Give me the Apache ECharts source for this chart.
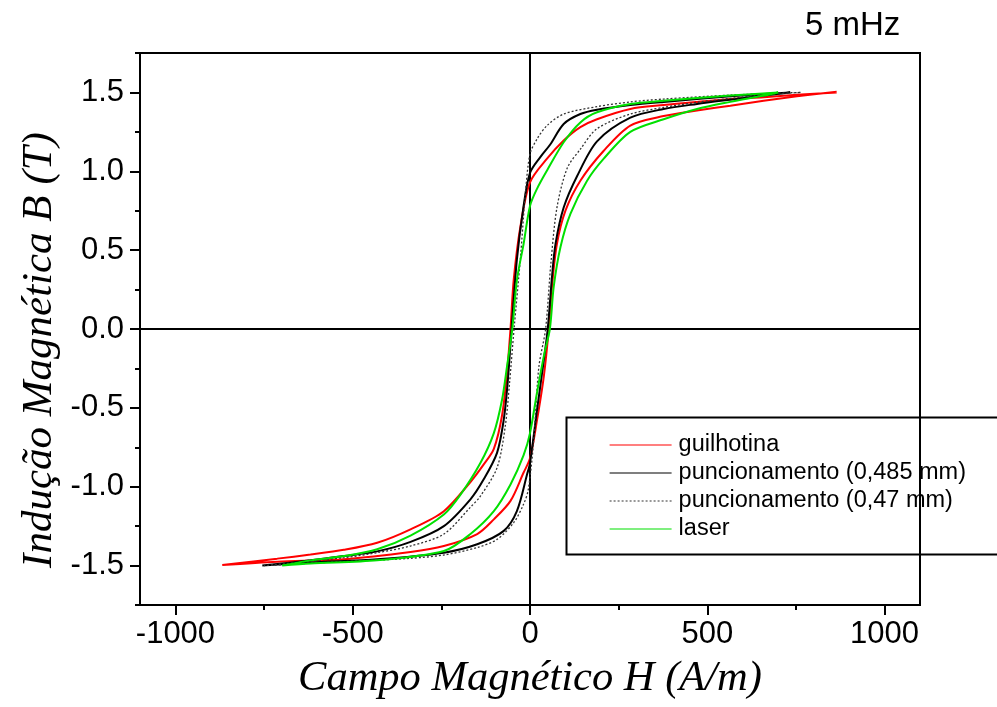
<!DOCTYPE html>
<html>
<head>
<meta charset="utf-8">
<script src="https://cdn.jsdelivr.net/npm/echarts@6/dist/echarts.min.js"></script>
<style>
html,body{margin:0;padding:0;background:#fff;}
#chart{width:997px;height:707px;}
</style>
</head>
<body>
<div id="chart"></div>
<script>
// ---- Data (H in A/m, B in T) ----
const seriesNames = ['guilhotina', 'puncionamento (0,485 mm)', 'puncionamento (0,47 mm)', 'laser'];

// guilhotina (red)
const gDownH = [865, 753, 659, 565, 471, 377, 283, 189, 142, 95, 48, 0, -27, -46, -55, -65, -79, -102, -131, -168, -243, -337, -431, -525, -619, -713, -868];
const gDownB = [1.50, 1.485, 1.47, 1.458, 1.44, 1.42, 1.395, 1.33, 1.28, 1.195, 1.08, 0.93, 0.65, 0.31, 0.0, -0.28, -0.55, -0.76, -0.86, -0.97, -1.155, -1.27, -1.355, -1.40, -1.43, -1.456, -1.496];
const gUpH = [-868, -713, -525, -337, -243, -149, -102, -55, -18, 0, 20, 39, 53, 62, 76, 100, 142, 208, 283, 377, 471, 565, 659, 753, 865];
const gUpB = [-1.496, -1.475, -1.46, -1.414, -1.376, -1.30, -1.207, -1.09, -0.91, -0.82, -0.575, -0.30, 0.0, 0.27, 0.54, 0.75, 0.94, 1.13, 1.29, 1.35, 1.385, 1.416, 1.447, 1.475, 1.504];

// puncionamento (0,485 mm) (black solid)
const p1DownH = [734, 565, 377, 283, 189, 142, 95, 57, 29, 0, -18, -37, -52, -63, -74, -93, -131, -168, -243, -337, -431, -525, -619, -755];
const p1DownB = [1.50, 1.475, 1.44, 1.42, 1.39, 1.363, 1.30, 1.17, 1.09, 0.99, 0.78, 0.44, 0.0, -0.34, -0.575, -0.785, -0.955, -1.08, -1.25, -1.35, -1.41, -1.44, -1.467, -1.50];
const p1UpH = [-755, -619, -431, -243, -149, -74, -37, -8, 0, 20, 34, 50, 62, 72, 95, 133, 189, 283, 377, 471, 565, 659, 734];
const p1UpB = [-1.50, -1.48, -1.46, -1.418, -1.365, -1.28, -1.155, -0.92, -0.85, -0.51, -0.28, 0.0, 0.33, 0.54, 0.77, 0.97, 1.19, 1.34, 1.395, 1.427, 1.454, 1.48, 1.50];

// puncionamento (0,47 mm) (black dotted)
const p2DownH = [763, 565, 377, 283, 189, 95, 48, 20, 0, -13, -27, -45, -58, -70, -93, -140, -168, -243, -337, -431, -525, -750];
const p2DownB = [1.50, 1.483, 1.458, 1.44, 1.41, 1.363, 1.29, 1.205, 1.11, 0.86, 0.45, 0.0, -0.35, -0.62, -0.88, -1.06, -1.13, -1.30, -1.376, -1.418, -1.45, -1.50];
const p2UpH = [-750, -525, -337, -243, -149, -93, -46, -18, -5, 10, 25, 44, 59, 76, 105, 142, 189, 283, 377, 471, 565, 659, 763];
const p2UpB = [-1.50, -1.475, -1.454, -1.433, -1.386, -1.334, -1.228, -1.11, -1.02, -0.72, -0.24, 0.0, 0.42, 0.77, 1.02, 1.14, 1.27, 1.363, 1.405, 1.437, 1.462, 1.485, 1.50];

// laser (green)
const lDownH = [700, 565, 377, 283, 189, 142, 95, 48, 20, 0, -18, -37, -50, -65, -79, -102, -140, -196, -243, -337, -431, -525, -619, -699];
const lDownB = [1.50, 1.48, 1.447, 1.427, 1.374, 1.31, 1.184, 1.005, 0.89, 0.78, 0.54, 0.31, 0.0, -0.24, -0.45, -0.66, -0.85, -1.05, -1.176, -1.31, -1.397, -1.44, -1.467, -1.50];
const lUpH = [-699, -619, -431, -243, -168, -102, -55, -18, 0, 20, 41, 56, 67, 86, 114, 161, 208, 283, 377, 471, 565, 659, 700];
const lUpB = [-1.50, -1.487, -1.467, -1.408, -1.30, -1.155, -0.986, -0.80, -0.66, -0.40, -0.15, 0.0, 0.27, 0.52, 0.73, 0.94, 1.08, 1.25, 1.33, 1.395, 1.44, 1.48, 1.50];

// Axis ticks
const xMajor = [-1000, -500, 0, 500, 1000];
const xMinor = [-750, -250, 250, 750];
const yMajor = [-1.5, -1.0, -0.5, 0, 0.5, 1.0, 1.5];
const yMinor = [-1.75, -1.25, -0.75, -0.25, 0.25, 0.75, 1.25, 1.75];

// ---- Build ----
function loop(dH, dB, uH, uB) {
  const out = [];
  for (let i = 0; i < dH.length; i++) out.push([dH[i], dB[i]]);
  for (let i = 1; i < uH.length; i++) out.push([uH[i], uB[i]]);
  return out;
}

const chart = echarts.init(document.getElementById('chart'), null, {renderer: 'canvas'});
const sans = "'Liberation Sans', Arial, sans-serif";
const serif = "'Liberation Serif', 'Times New Roman', serif";
const tickFont = {fontFamily: sans, fontSize: 31, color: '#000'};

const baseLine = {type: 'line', showSymbol: false, symbol: 'none', smooth: 0.3, xAxisIndex: 0, yAxisIndex: 0, animation: false, z: 3};

chart.setOption({
  animation: false,
  backgroundColor: '#fff',
  title: {
    text: '5 mHz', left: 805, top: 9, padding: 0,
    textStyle: {fontFamily: sans, fontSize: 33, fontWeight: 'normal', color: '#000'}
  },
  grid: {left: 140, right: 77, top: 53, bottom: 102, show: true, borderColor: '#000', borderWidth: 2, backgroundColor: 'transparent'},
  legend: {
    orient: 'vertical', left: 609, top: 433, padding: 0,
    itemWidth: 62, itemHeight: 2, itemGap: 4,
    data: seriesNames,
    textStyle: {fontFamily: sans, fontSize: 23.5, lineHeight: 24, color: '#000', padding: [0, 0, 0, 2]},
    itemStyle: {opacity: 0},
    lineStyle: {width: 1.2}
  },
  graphic: [{
    type: 'rect', left: 564, top: 415, z: 50, silent: true,
    shape: {x: 0, y: 0, width: 460, height: 137},
    style: {fill: 'none', stroke: '#000', lineWidth: 2}
  }, {
    type: 'text', x: 40, y: 350, rotation: Math.PI / 2, silent: true,
    style: {
      text: 'Indução Magnética B (T)', fontFamily: serif, fontStyle: 'italic', fontSize: 43,
      fill: '#000', align: 'center', verticalAlign: 'middle'
    }
  }],
  xAxis: [{
    type: 'value', min: -1100, max: 1100, position: 'bottom',
    name: 'Campo Magnético H (A/m)', nameLocation: 'middle', nameGap: 52,
    nameTextStyle: {fontFamily: serif, fontStyle: 'italic', fontSize: 42.5, color: '#000'},
    axisLine: {show: true, onZero: false, lineStyle: {color: '#000', width: 2}},
    axisTick: {show: true, customValues: xMajor, length: 10, lineStyle: {color: '#000', width: 2}},
    axisLabel: Object.assign({customValues: xMajor, margin: 14, formatter: v => String(v)}, tickFont),
    splitLine: {show: false}
  }, {
    type: 'value', min: -1100, max: 1100, position: 'bottom',
    axisLine: {show: false, onZero: false},
    axisTick: {show: true, customValues: xMinor, length: 5, lineStyle: {color: '#000', width: 2}},
    axisLabel: {show: false},
    splitLine: {show: false}
  }],
  yAxis: [{
    type: 'value', min: -1.75, max: 1.75, position: 'left',
    axisLine: {show: true, onZero: false, lineStyle: {color: '#000', width: 2}},
    axisTick: {show: true, customValues: yMajor, length: 10, lineStyle: {color: '#000', width: 2}},
    axisLabel: Object.assign({customValues: yMajor, margin: 16, formatter: v => v.toFixed(1)}, tickFont),
    splitLine: {show: false}
  }, {
    type: 'value', min: -1.75, max: 1.75, position: 'left',
    axisLine: {show: false, onZero: false},
    axisTick: {show: true, customValues: yMinor, length: 5, lineStyle: {color: '#000', width: 2}},
    axisLabel: {show: false},
    splitLine: {show: false}
  }],
  series: [
    Object.assign({}, baseLine, {
      name: seriesNames[0], color: '#ff0000',
      lineStyle: {color: '#ff0000', width: 2},
      data: loop(gDownH, gDownB, gUpH, gUpB),
      markLine: {
        silent: true, symbol: ['none', 'none'], animation: false, z: 2,
        label: {show: false},
        lineStyle: {color: '#000', width: 2, type: 'solid'},
        data: [{xAxis: 0}, {yAxis: 0}]
      }
    }),
    Object.assign({}, baseLine, {
      name: seriesNames[1], color: '#000000',
      lineStyle: {color: '#000000', width: 2},
      data: loop(p1DownH, p1DownB, p1UpH, p1UpB)
    }),
    Object.assign({}, baseLine, {
      name: seriesNames[2], color: '#333333',
      lineStyle: {color: '#333333', width: 1.3, type: [2, 2]},
      data: loop(p2DownH, p2DownB, p2UpH, p2UpB)
    }),
    Object.assign({}, baseLine, {
      name: seriesNames[3], color: '#00e000',
      lineStyle: {color: '#00e000', width: 2},
      data: loop(lDownH, lDownB, lUpH, lUpB)
    })
  ]
});
</script>
</body>
</html>
